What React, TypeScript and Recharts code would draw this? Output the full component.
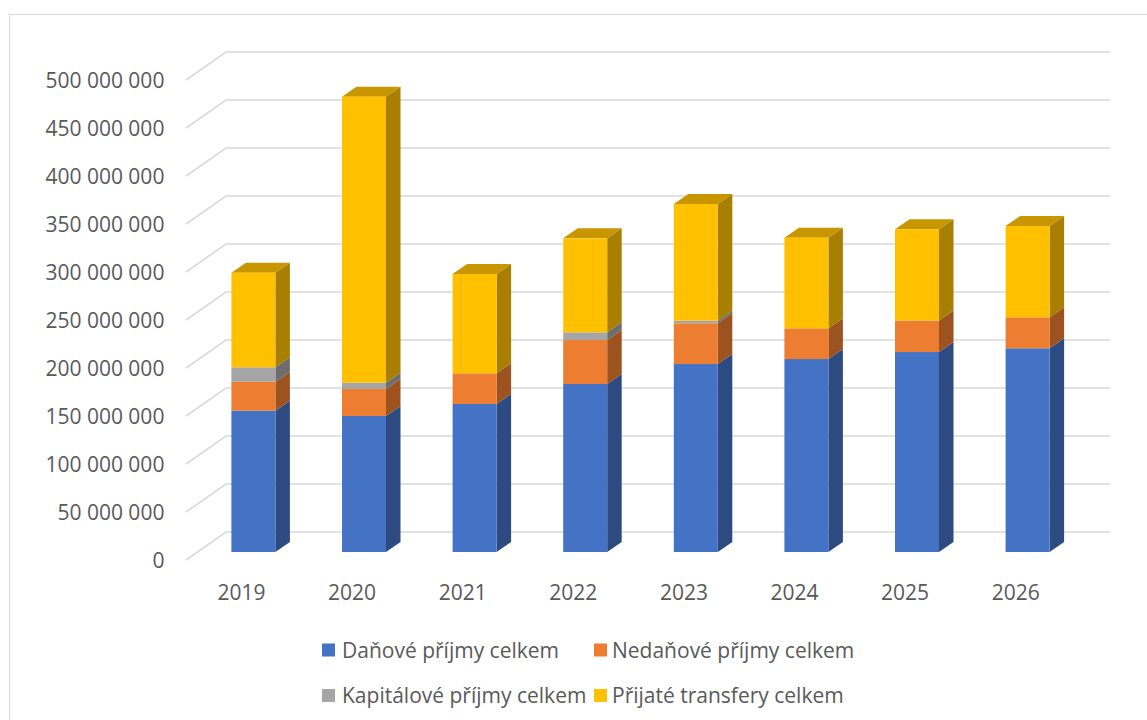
import React from 'react';
import { BarChart, Bar, XAxis, YAxis, CartesianGrid, Legend } from 'recharts';

const years = ['2019', '2020', '2021', '2022', '2023', '2024', '2025', '2026'];
const danovePrijmy = [147200000, 141700000, 154200000, 175000000, 195800000, 201000000, 208300000, 212200000];
const nedanovePrijmy = [30200000, 28100000, 31900000, 45800000, 42400000, 32000000, 32800000, 32300000];
const kapitalovePrijmy = [15000000, 6600000, 0, 8000000, 2800000, 0, 0, 0];
const prijateTransfery = [98500000, 297900000, 103500000, 97900000, 121500000, 94400000, 95100000, 95100000];

const seriesKeys = ['danove', 'nedanove', 'kapitalove', 'transfery'];
const seriesNames = ['Daňové příjmy celkem', 'Nedaňové příjmy celkem', 'Kapitálové příjmy celkem', 'Přijaté transfery celkem'];
const seriesColors = ['#4472C4', '#ED7D31', '#A5A5A5', '#FFC000'];
const yTicks = [0, 50000000, 100000000, 150000000, 200000000, 250000000, 300000000, 350000000, 400000000, 450000000, 500000000];

const data = years.map((year, i) => ({
  year,
  danove: danovePrijmy[i],
  nedanove: nedanovePrijmy[i],
  kapitalove: kapitalovePrijmy[i],
  transfery: prijateTransfery[i],
}));

const FONT = '"Open Sans", "Noto Sans", sans-serif';
const TEXT = '#595959';
const GRID = '#D9D9D9';
const DX = 14.5;
const DY = 10;
const PLOT_LEFT = 198.4;
const PLOT_BOTTOM = 552;
const Y_AXIS_W = 60;
const X_AXIS_H = 40;

function shade(hex: string, f: number): string {
  const n = parseInt(hex.slice(1), 16);
  const r = Math.round(((n >> 16) & 255) * f);
  const g = Math.round(((n >> 8) & 255) * f);
  const b = Math.round((n & 255) * f);
  return `rgb(${r},${g},${b})`;
}

function make3DShape(color: string, drawTop: boolean) {
  return (props: any) => {
    const { x, y, width, height } = props;
    if (!height || height <= 0.01) return <g />;
    const side = shade(color, 0.66);
    const top = shade(color, 0.78);
    return (
      <g>
        <polygon
          points={`${x + width},${y} ${x + width + DX},${y - DY} ${x + width + DX},${y + height - DY} ${x + width},${y + height}`}
          fill={side}
        />
        {drawTop && (
          <polygon
            points={`${x},${y} ${x + DX},${y - DY} ${x + width + DX},${y - DY} ${x + width},${y}`}
            fill={top}
          />
        )}
        <rect x={x} y={y} width={width} height={height} fill={color} />
      </g>
    );
  };
}

const formatNum = (v: number) => String(v).replace(/\B(?=(\d{3})+(?!\d))/g, ' ');

const gridLine = (props: any) => {
  const { x1, x2, y1 } = props;
  return (
    <path
      key={`g-${y1}`}
      d={`M${x1 - 12.4},${y1 + 8} L${x1 + 27.6},${y1 - 20} L${x2 + 27.1},${y1 - 20}`}
      stroke={GRID}
      strokeWidth={1.6}
      fill="none"
    />
  );
};

const renderYTick = (props: any) => {
  const { y, payload } = props;
  return (
    <text
      key={`y-${payload.value}`}
      x={PLOT_LEFT - 34}
      y={y + 16}
      textAnchor="end"
      fill={TEXT}
      fontSize={21}
      fontFamily={FONT}
    >
      {formatNum(payload.value)}
    </text>
  );
};

const renderXTick = (props: any) => {
  const { x, payload } = props;
  return (
    <text
      key={`x-${payload.value}`}
      x={x - 12.2}
      y={PLOT_BOTTOM + 47.5}
      textAnchor="middle"
      fill={TEXT}
      fontSize={21}
      fontFamily={FONT}
    >
      {payload.value}
    </text>
  );
};

const legendPos = [
  { sx: 322, tx: 342, cy: 650 },
  { sx: 594, tx: 612, cy: 650 },
  { sx: 322, tx: 342, cy: 695.5 },
  { sx: 594, tx: 612, cy: 695.5 },
];

const renderLegend = () => (
  <svg width={1147} height={720} style={{ position: 'absolute', left: 0, top: 0, overflow: 'visible' }}>
    {seriesNames.map((name, i) => (
      <g key={name}>
        <rect x={legendPos[i].sx} y={legendPos[i].cy - 6.5} width={13} height={13} fill={seriesColors[i]} />
        <text x={legendPos[i].tx} y={legendPos[i].cy + 7.5} fill={TEXT} fontSize={21} fontFamily={FONT}>
          {name}
        </text>
      </g>
    ))}
  </svg>
);

export default function App() {
  return (
    <div style={{ position: 'absolute', left: 0, top: 0, width: 1147, height: 720, background: '#fff', overflow: 'hidden' }}>
      <div
        style={{
          position: 'absolute',
          left: 9,
          top: 14,
          width: 1200,
          height: 800,
          border: `1.5px solid ${GRID}`,
          boxSizing: 'border-box',
        }}
      />
      <div style={{ position: 'absolute', left: 0, top: 0 }}>
        <BarChart
          width={1147}
          height={720}
          data={data}
          margin={{ top: 72, right: 63.8, bottom: 720 - PLOT_BOTTOM - X_AXIS_H, left: PLOT_LEFT - Y_AXIS_W }}
          barSize={44}
        >
          <CartesianGrid horizontal={gridLine} vertical={false} />
          <XAxis
            dataKey="year"
            height={X_AXIS_H}
            axisLine={false}
            tickLine={false}
            tick={renderXTick}
            interval={0}
          />
          <YAxis
            width={Y_AXIS_W}
            domain={[0, 500000000]}
            ticks={yTicks}
            axisLine={false}
            tickLine={false}
            tick={renderYTick}
            interval={0}
          />
          <Legend
            layout="horizontal"
            verticalAlign="middle"
            align="center"
            wrapperStyle={{ position: 'absolute', left: 0, top: 0, width: 0, height: 0, overflow: 'visible' }}
            content={renderLegend}
          />
          {seriesKeys.map((k, i) => (
            <Bar
              key={k}
              dataKey={k}
              name={seriesNames[i]}
              stackId="a"
              fill={seriesColors[i]}
              isAnimationActive={false}
              shape={make3DShape(seriesColors[i], i === seriesKeys.length - 1)}
            />
          ))}
        </BarChart>
      </div>
    </div>
  );
}
